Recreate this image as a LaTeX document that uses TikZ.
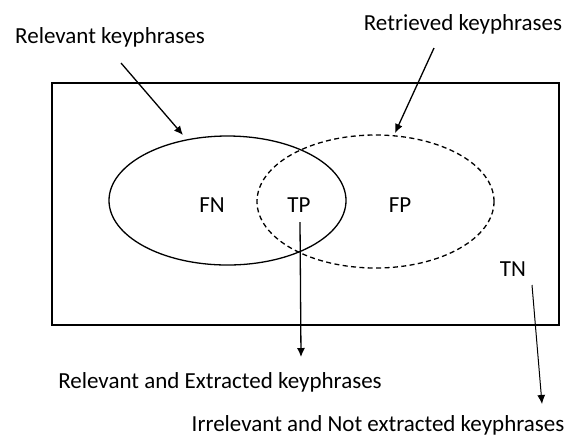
\documentclass[tikz,border=0pt]{standalone}
\usepackage{fontspec}
\setmainfont{Carlito}
\usetikzlibrary{positioning,arrows,arrows.meta}
\usetikzlibrary{shapes.geometric}
\tikzset{lbl/.style={inner sep=0pt,font=\fontsize{11.5}{14}\selectfont}}
\tikzset{set/.style={draw,ellipse,inner sep=0pt,line width=0.65pt}}
\tikzset{pointer/.style={-{Latex[length=4.5pt,width=4pt]},line width=0.65pt}}

\begin{document}
\begin{tikzpicture}[x=0.5pt,y=-0.5pt]
    \useasboundingbox (0,0) rectangle (571,436);
    \node[draw,line width=0.7pt,minimum width=253.5pt,minimum height=121pt] (universe) at (305.5,204) {};
    \node[set,minimum width=118.5pt,minimum height=64.5pt] (relevant) at (227.5,200.5) {};
    \node[set,dash pattern=on 2.5pt off 1.7pt,minimum width=118.5pt,minimum height=66.5pt] (retrieved) at (375.5,201.5) {};
    \node[lbl] (fn) at (212,205) {FN};
    \node[lbl] (tp) at (299,205) {TP};
    \node[lbl] (fp) at (400,205) {FP};
    \node[lbl] (tn) at (513,269) {TN};
    \node[lbl] (rellbl) at (110,37) {Relevant keyphrases};
    \node[lbl] (retlbl) at (463,24) {Retrieved keyphrases};
    \node[lbl] (tplbl) at (220,382) {Relevant and Extracted keyphrases};
    \node[lbl] (tnlbl) at (378,425) {Irrelevant and Not extracted keyphrases};
    \coordinate (relfrom) at (121,63);
    \coordinate (relto) at (183,135);
    \coordinate (retfrom) at (434,48);
    \coordinate (retto) at (395,133);
    \coordinate (tpfrom) at (300,222);
    \coordinate (tpto) at (301,357);
    \coordinate (tnfrom) at (532,285);
    \coordinate (tnto) at (542,404);
    \draw[pointer] (relfrom) -- (relto);
    \draw[pointer] (retfrom) -- (retto);
    \draw[pointer] (tpfrom) -- (tpto);
    \draw[pointer,line width=0.5pt] (tnfrom) -- (tnto);
\end{tikzpicture}
\end{document}
